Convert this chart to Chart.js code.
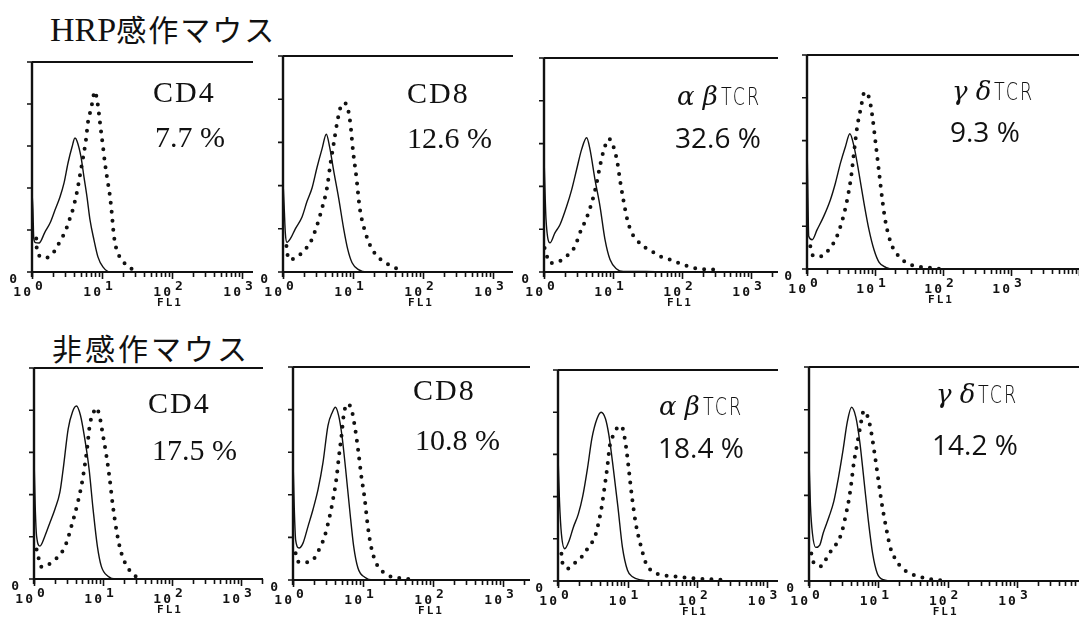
<!DOCTYPE html>
<html lang="ja">
<head>
<meta charset="utf-8">
<title>HRP感作マウス / 非感作マウス FL1</title>
<script src="https://cdn.jsdelivr.net/npm/chart.js@4.4.1/dist/chart.umd.min.js"></script>
<style>
  html, body { margin: 0; padding: 0; background: #fff; }
  body { width: 1079px; height: 617px; position: relative; overflow: hidden; }
  canvas { position: absolute; }
  .lbl { position: absolute; color: #111; white-space: nowrap; line-height: 1; }
  .title1 { font-family: "Liberation Serif", "Noto Sans CJK JP", serif; font-size: 34px; }
  .title1 .jp { font-family: "Noto Sans CJK JP", sans-serif; font-size: 30px; letter-spacing: 2px; }
  .title2 { font-family: "Noto Sans CJK JP", sans-serif; font-size: 30px; letter-spacing: 3px; }
  .serif { font-family: "Liberation Serif", serif; font-size: 30px; }
  .serif.name { letter-spacing: 2px; }
  .sans { font-family: "Open Sans", "Noto Sans", sans-serif; font-size: 28px; }
  .greekrow { font-family: "DejaVu Serif", serif; font-size: 26px; }
  .greek { font-style: italic; }
  .tcr { display: inline-block; font-family: "DejaVu Sans", sans-serif; font-weight: 200;
         font-size: 25px; letter-spacing: 3px; transform: scaleX(0.7); transform-origin: left; margin-left: 3px; }
</style>
</head>
<body>
<div class="lbl title1" style="left:50px; top:13px;">HRP<span class="jp">感作マウス</span></div>
<div class="lbl title2" style="left:52px; top:332px;">非感作マウス</div>

<script>
// ---- text ----
const markerNames = ['CD4', 'CD8', 'αβTCR', 'γδTCR'];
const hrpPercent = ['7.7 %', '12.6 %', '32.6 %', '9.3 %'];
const naivePercent = ['17.5 %', '10.8 %', '18.4 %', '14.2 %'];

// FL1 axis: labelled decades (10^n) and count ticks
const fl1Decades = [0, 1, 2, 3];
const countTicks = [0, 20, 40, 60, 80, 100];

// ---- histograms: [FL1, count] ----
// HRP感作マウス
const hrpCd4Line = [[1.0,38],[1.03,30],[1.06,16],[1.12,14],[1.26,13.8],[1.53,19],[1.81,23.3],[2.13,29.5],[2.51,35.7],[2.87,42.4],[3.27,51.9],[3.73,59.5],[4.11,63.8],[4.39,62.4],[5.01,54.8],[5.53,45.2],[6.11,35.7],[6.74,24.8],[7.69,15.2],[8.77,7.1],[10.3,2.4],[13,0],[40,0]];
const hrpCd4Dots = [[1.15,16],[1.18,9.5],[1.53,6.7],[2.0,9],[2.35,12.9],[2.77,17.1],[3.16,21.4],[3.49,25.7],[3.85,30],[4.11,33.8],[4.39,38.1],[4.85,46.2],[5.35,54.3],[5.9,62.9],[6.31,71.4],[6.74,75.7],[7.2,80],[7.9,86],[8.5,82],[9.0,76],[9.6,68],[10.3,60],[11,52],[11.8,45],[13,36],[13.9,27],[14.5,20],[15.3,14],[16.9,9],[20,5],[24,2.5],[28,1]];

const hrpCd8Line = [[1.0,42],[1.04,30],[1.08,18],[1.14,13.7],[1.27,15.3],[1.5,20],[1.87,25.5],[2.2,32.6],[2.6,38.9],[3.06,48.4],[3.61,57],[4.16,63.8],[4.64,57.8],[5.3,46.8],[6.24,34.2],[7.36,20],[8.4,10.6],[9.7,4.3],[12,1.1],[15.8,0],[40,0]];
const hrpCd8Dots = [[1.12,12],[1.2,5.8],[1.55,6.6],[1.97,9.8],[2.46,13.7],[3.06,21.6],[3.61,29.5],[4.25,38.9],[4.75,49.9],[5.3,59.4],[5.91,68.8],[6.59,75.9],[7.52,78.3],[8.4,75.9],[9.16,68.8],[10,56.2],[11.2,43.6],[12.5,29.5],[14.5,20],[17.7,12.1],[22,7.4],[29,4.3],[38,2.2],[47,1.1]];

const hrpAbLine = [[1.0,54],[1.04,35],[1.07,24.5],[1.22,13.6],[1.44,18.3],[1.71,22.2],[2.13,30.7],[2.52,38.5],[2.97,47.9],[3.51,57.3],[4.15,62.7],[4.64,57.3],[5.48,43.2],[6.48,30.7],[7.66,15.1],[9.05,5.8],[11.3,1.4],[14.1,0.3],[30,0.3],[60,0]];
const hrpAbDots = [[1.02,11.2],[1.22,4.2],[1.67,5],[2.25,8.1],[2.81,12],[3.32,18.3],[4.15,25.3],[4.91,32.3],[5.67,40.1],[6.48,49.5],[7.41,57.3],[8.75,62.2],[10.1,58.8],[11.6,51],[12.6,43.2],[14.1,33.9],[16.1,24.5],[18.7,18.3],[22,15.1],[27.5,12],[36.3,9.7],[48,7.3],[67,5.8],[104,3.4],[182,1.4],[336,1.1]];

const hrpGdLine = [[1.0,60],[1.03,35],[1.06,15.3],[1.19,13.7],[1.41,18.4],[1.76,24.6],[2.21,32.4],[2.62,40.2],[3.11,49.6],[3.69,57.4],[4.27,63.2],[4.9,57.4],[5.8,44.9],[6.88,30.9],[8.15,18.4],[9.67,9],[11.5,3.1],[14.4,0.8],[19,0],[60,0]];
const hrpGdDots = [[1.12,10.6],[1.23,6.2],[1.61,5.9],[2.09,9],[2.54,12.9],[2.94,17.6],[3.48,25.4],[3.99,34],[4.47,43.4],[4.9,54.3],[5.48,66.5],[6.14,74.6],[7.03,82.7],[8.25,79.6],[9.14,71.4],[10.2,59],[11.5,44.9],[12.8,32.4],[14.4,21.5],[17.1,12.2],[21.4,6.7],[29.4,2.8],[42.3,1.2],[66.5,0.5],[99,0]];

// 非感作マウス
const naiveCd4Line = [[1.0,58],[1.04,35],[1.09,20.4],[1.22,15.6],[1.44,20.4],[1.7,26.7],[2.01,33.1],[2.37,41],[2.65,52.2],[3.13,71.2],[3.61,79.2],[4.12,82],[4.71,77.6],[5.44,66.5],[6.28,52.2],[7.18,33.1],[8.28,15.6],[9.46,6],[11.8,1.3],[15.5,0],[50,0]];
const naiveCd4Dots = [[1.09,14],[1.29,5.7],[1.61,6.8],[2.01,9.2],[2.5,12.4],[2.96,17.2],[3.49,25.1],[3.9,30.7],[4.36,37],[4.87,44.2],[5.44,53.7],[5.88,61.7],[6.42,72.8],[7.18,78.4],[8.02,81.1],[8.96,76.8],[10,68],[11.2,58.5],[12.5,47.4],[13.9,34.7],[15.9,21.9],[18.4,12.4],[23,5.2],[30.3,1]];

const naiveCd8Line = [[1.0,57],[1.04,35],[1.09,18.9],[1.22,15],[1.39,17.3],[1.64,25.2],[1.93,33.1],[2.28,42.5],[2.68,55.1],[3.16,72.5],[3.65,78.8],[4.03,81.1],[4.49,77.2],[5.01,67.7],[5.65,52],[6.45,33.1],[7.36,15.8],[8.49,5.5],[10.6,1.3],[13.9,0],[50,0]];
const naiveCd8Dots = [[1.09,12.6],[1.18,8.7],[1.39,8.2],[1.93,9.5],[2.28,13.4],[2.83,20.5],[3.34,29.9],[3.73,37.8],[4.16,47.3],[4.54,58.3],[4.96,68.5],[5.29,77.2],[5.91,82.7],[6.81,80.3],[7.6,72.5],[8.49,61.4],[9.46,48.8],[10.6,37.8],[11.4,28.4],[12.5,18.9],[14.2,11],[16.4,6.3],[20.4,3.2],[26.8,1.3],[37.3,0.8],[49,0.3]];

const naiveAbLine = [[1.0,60],[1.05,38],[1.12,22.3],[1.25,15.3],[1.45,19.2],[1.66,25.4],[1.96,31.7],[2.27,40.2],[2.66,53.5],[3.07,67.5],[3.64,76.9],[4.17,80],[4.82,76.9],[5.4,69.1],[6.24,53.5],[7.3,34.8],[8.45,16.1],[10,5.1],[11.8,2],[15.7,0.5],[21.9,0],[60,0]];
const naiveAbDots = [[1.12,12.9],[1.16,8.6],[1.4,5.9],[1.81,9],[2.19,11.4],[2.75,16.1],[3.44,21.5],[3.98,30.1],[4.31,36.3],[4.66,44.1],[5.1,53.5],[5.58,64.4],[6.24,69.1],[6.98,72.2],[8.17,73.5],[9.14,67.5],[10,58.2],[10.9,47.3],[11.8,37.9],[13.2,27],[15.7,16.1],[18.5,8.3],[23.2,4.4],[32.5,2.8],[54,2],[94.6,1.2],[166,0.8],[290,0.5]];

const naiveGdLine = [[1.0,57],[1.05,35],[1.12,22.3],[1.25,15.7],[1.43,16.8],[1.6,22.3],[1.95,30.1],[2.28,37.2],[2.63,47.4],[3.11,61.5],[3.56,74.1],[4.11,81.2],[4.75,76.5],[5.42,64.7],[6.2,47.4],[7.16,28.6],[8.28,12.9],[9.67,3.5],[11.8,0.6],[16.5,0],[60,0]];
const naiveGdDots = [[1.08,12.9],[1.17,8.5],[1.51,6.9],[1.78,10.5],[2.11,14.4],[2.55,17.9],[2.94,22.3],[3.4,30.9],[3.8,38.8],[4.11,46.6],[4.44,55.3],[4.85,62.3],[5.42,71],[6.2,79.6],[7.24,75.4],[8,68.6],[8.95,58.4],[10,47.4],[11.2,36.4],[12.9,25.4],[14.8,16],[18,9.7],[22.5,5.8],[28.8,3.5],[38,2.2],[50,1.1],[83,0.3]];

// ---- panel frames on the page (plot area edges, px per decade) ----
const panels = [
  { L: 32,  T: 62,  R: 253,  B: 272, dec: 70,   line: hrpCd4Line,   dots: hrpCd4Dots,   name: markerNames[0], pct: hrpPercent[0],   nameAt: [153, 77],  pctAt: [155, 122] },
  { L: 283, T: 56,  R: 513,  B: 272, dec: 70,   line: hrpCd8Line,   dots: hrpCd8Dots,   name: markerNames[1], pct: hrpPercent[1],   nameAt: [407, 78],  pctAt: [407, 123] },
  { L: 544, T: 58,  R: 778,  B: 272, dec: 69,   line: hrpAbLine,    dots: hrpAbDots,    name: markerNames[2], pct: hrpPercent[2],   nameAt: [677, 83],  pctAt: [675, 123] },
  { L: 807, T: 55,  R: 1079, B: 269, dec: 68,   line: hrpGdLine,    dots: hrpGdDots,    name: markerNames[3], pct: hrpPercent[3],   nameAt: [952, 78],  pctAt: [950, 117] },
  { L: 34,  T: 368, R: 263,  B: 579, dec: 69,   line: naiveCd4Line, dots: naiveCd4Dots, name: markerNames[0], pct: naivePercent[0], nameAt: [148, 388], pctAt: [152, 435] },
  { L: 293, T: 367, R: 530,  B: 580, dec: 70,   line: naiveCd8Line, dots: naiveCd8Dots, name: markerNames[1], pct: naivePercent[1], nameAt: [413, 375], pctAt: [415, 425] },
  { L: 558, T: 370, R: 778,  B: 581, dec: 69.5, line: naiveAbLine,  dots: naiveAbDots,  name: markerNames[2], pct: naivePercent[2], nameAt: [659, 393], pctAt: [658, 433] },
  { L: 809, T: 367, R: 1079, B: 581, dec: 69.3, line: naiveGdLine,  dots: naiveGdDots,  name: markerNames[3], pct: naivePercent[3], nameAt: [936, 381], pctAt: [932, 430] }
];

const INK = '#111';

// axes, ticks and labels drawn from the chart's own scales
const facsAxes = {
    id: 'facsAxes',
    afterDatasetsDraw(chart) {
        const ctx = chart.ctx;
        const xs = chart.scales.x, ys = chart.scales.y;
        const { left, right, top, bottom } = chart.chartArea;
        ctx.save();
        ctx.strokeStyle = INK;
        ctx.fillStyle = INK;
        ctx.setLineDash([]);

        // frame: top line + bottom axis
        ctx.lineWidth = 1.8;
        ctx.beginPath();
        ctx.moveTo(left, top); ctx.lineTo(right, top);
        ctx.moveTo(left, bottom); ctx.lineTo(right, bottom);
        ctx.stroke();
        // left axis
        ctx.lineWidth = 2.4;
        ctx.beginPath();
        ctx.moveTo(left, top); ctx.lineTo(left, bottom + 5);
        ctx.stroke();

        // log ticks on FL1 (pointing down)
        ctx.lineWidth = 1.6;
        ctx.beginPath();
        for (let d = 0; d < 5; d++) {
            for (let m = 1; m <= 9; m++) {
                const v = m * Math.pow(10, d);
                if (v > xs.max) break;
                const px = Math.round(xs.getPixelForValue(v)) + 0.5;
                ctx.moveTo(px, bottom);
                ctx.lineTo(px, bottom + (m === 1 ? 7 : 5));
            }
        }
        // count ticks (pointing left)
        countTicks.forEach(v => {
            const py = ys.getPixelForValue(v);
            ctx.moveTo(left, py);
            ctx.lineTo(left - 5, py);
        });
        ctx.stroke();

        // labels
        ctx.textBaseline = 'middle';
        ctx.font = 'bold 13px "DejaVu Sans Mono"';
        ctx.letterSpacing = '1px';
        ctx.textAlign = 'right';
        ctx.fillText('0', left - 14, bottom + 8);

        fl1Decades.forEach(n => {
            const v = Math.pow(10, n);
            if (v > xs.max) return;
            const px = xs.getPixelForValue(v);
            ctx.font = 'bold 13px "DejaVu Sans Mono"';
            ctx.letterSpacing = '2px';
            ctx.textAlign = 'right';
            ctx.fillText('10', px + 1, bottom + 21);
            ctx.letterSpacing = '0px';
            ctx.textAlign = 'left';
            ctx.fillText(String(n), px + 3, bottom + 15);
        });

        ctx.font = 'bold 11px "DejaVu Sans Mono"';
        ctx.letterSpacing = '2px';
        ctx.textAlign = 'center';
        ctx.fillText('FL1', xs.getPixelForValue(100) - 2, bottom + 31);
        ctx.restore();
    }
};

function toXY(rows) {
    return rows.map(r => ({ x: r[0], y: r[1] }));
}

function addLabel(cls, html, pos) {
    const el = document.createElement('div');
    el.className = 'lbl ' + cls;
    el.style.left = pos[0] + 'px';
    el.style.top = pos[1] + 'px';
    el.innerHTML = html;
    document.body.appendChild(el);
}

function drawPanel(p) {
    const pad = { left: 34, top: 4, right: 6, bottom: 40 };
    const canvas = document.createElement('canvas');
    canvas.width = p.R - p.L + pad.left + pad.right;
    canvas.height = p.B - p.T + pad.top + pad.bottom;
    canvas.style.left = (p.L - pad.left) + 'px';
    canvas.style.top = (p.T - pad.top) + 'px';
    document.body.appendChild(canvas);

    new Chart(canvas, {
        type: 'line',
        data: {
            datasets: [{
                label: 'solid',
                data: toXY(p.line),
                borderColor: INK,
                borderWidth: 1.4,
                pointRadius: 0,
                cubicInterpolationMode: 'monotone',
                fill: false
            }, {
                label: 'dotted',
                data: toXY(p.dots),
                borderColor: INK,
                borderWidth: 4,
                borderDash: [0, 9],
                borderCapStyle: 'round',
                pointRadius: 0,
                cubicInterpolationMode: 'monotone',
                fill: false
            }]
        },
        options: {
            responsive: false,
            animation: false,
            events: [],
            layout: { padding: pad },
            plugins: {
                legend: { display: false },
                tooltip: { enabled: false }
            },
            scales: {
                x: { type: 'logarithmic', min: 1, max: Math.pow(10, (p.R - p.L) / p.dec), display: false },
                y: { type: 'linear', min: 0, max: 100, display: false }
            }
        },
        plugins: [facsAxes]
    });

    // marker name + percentage
    const greekName = p.name.charAt(1) !== 'D';
    if (greekName) {
        addLabel('greekrow',
            '<span class="greek">' + p.name.charAt(0) + ' ' + p.name.charAt(1) + '</span>' +
            '<span class="tcr">' + p.name.slice(2) + '</span>', p.nameAt);
        addLabel('sans', p.pct, p.pctAt);
    } else {
        addLabel('serif name', p.name, p.nameAt);
        addLabel('serif', p.pct, p.pctAt);
    }
}

document.addEventListener('DOMContentLoaded', function () {
    try {
        panels.forEach(drawPanel);
    } catch (error) {
        console.error('FACS panels failed:', error);
    }
});
</script>
</body>
</html>
